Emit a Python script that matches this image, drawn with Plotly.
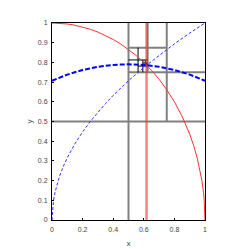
import plotly.graph_objects as go

# red quarter circle
circle_x = [0, 0.05, 0.1, 0.15, 0.2, 0.25, 0.3, 0.35, 0.4, 0.45, 0.5, 0.55, 0.6, 0.65,
            0.7, 0.75, 0.8, 0.85, 0.9, 0.925, 0.95, 0.97, 0.98, 0.99, 0.995, 1.0]
circle_y = [1.0, 0.99875, 0.99499, 0.98869, 0.9798, 0.96825, 0.95394, 0.93675, 0.91652,
            0.89303, 0.86603, 0.83516, 0.8, 0.75993, 0.71414, 0.66144, 0.6, 0.52678,
            0.43589, 0.37997, 0.31225, 0.2431, 0.199, 0.14107, 0.09987, 0.0]

# thin blue dashed curve
root_x = [0, 0.005, 0.01, 0.02, 0.03, 0.05, 0.075, 0.1, 0.15, 0.2, 0.25, 0.3, 0.35,
          0.4, 0.5, 0.6, 0.7, 0.8, 0.9, 1.0]
root_y = [0, 0.0707, 0.1, 0.1414, 0.1732, 0.2236, 0.2739, 0.3162, 0.3873, 0.4472, 0.5,
          0.5477, 0.5916, 0.6325, 0.7071, 0.7746, 0.8367, 0.8944, 0.9487, 1.0]

# thick blue dashed curve
mean_x = [0, 0.1, 0.2, 0.3, 0.4, 0.5, 0.6, 0.7, 0.8, 0.9, 1.0]
mean_y = [0.70711, 0.73824, 0.76158, 0.77782, 0.7874, 0.79057, 0.7874, 0.77782, 0.76158,
          0.73824, 0.70711]

golden_x = 0.618

# bisection split lines per level
split_vx = [0.5, 0.75, 0.625, 0.5625, 0.59375, 0.609375, 0.6171875, 0.62109375]
split_vy0 = [0, 0.5, 0.75, 0.75, 0.75, 0.78125, 0.78125, 0.78125]
split_vy1 = [1, 1, 1, 0.875, 0.8125, 0.8125, 0.796875, 0.7890625]
split_hy = [0.5, 0.75, 0.875, 0.8125, 0.78125, 0.796875, 0.7890625, 0.78515625]
split_hx0 = [0, 0.5, 0.5, 0.5, 0.5625, 0.59375, 0.609375, 0.6171875]
split_hx1 = [1, 1, 0.75, 0.625, 0.625, 0.625, 0.625, 0.625]
gray_levels = 3

x_ticks = [0, 0.2, 0.4, 0.6, 0.8, 1]
y_ticks = [0, 0.1, 0.2, 0.3, 0.4, 0.5, 0.6, 0.7, 0.8, 0.9, 1]


def segs(idx):
    xs, ys = [], []
    for i in idx:
        xs += [split_vx[i], split_vx[i], None, split_hx0[i], split_hx1[i], None]
        ys += [split_vy0[i], split_vy1[i], None, split_hy[i], split_hy[i], None]
    return xs, ys


fig = go.Figure()
gx, gy = segs(range(gray_levels))
fig.add_trace(go.Scatter(x=gx, y=gy, mode="lines", line=dict(color="#808080", width=2)))
bx, by = segs(range(gray_levels, len(split_vx)))
fig.add_trace(go.Scatter(x=bx, y=by, mode="lines", line=dict(color="black", width=1)))
fig.add_trace(go.Scatter(x=circle_x, y=circle_y, mode="lines",
                         line=dict(color="#ff3030", width=1)))
fig.add_trace(go.Scatter(x=root_x, y=root_y, mode="lines",
                         line=dict(color="#3030ff", width=1, dash="3px,2px")))
fig.add_trace(go.Scatter(x=mean_x, y=mean_y, mode="lines",
                         line=dict(color="#0000ff", width=2, dash="5px,2px")))
fig.add_trace(go.Scatter(x=[golden_x, golden_x], y=[0, 1], mode="lines",
                         line=dict(color="rgba(255,40,40,0.6)", width=2.5)))

axis_common = dict(showgrid=False, zeroline=False, showline=True, linecolor="black",
                   linewidth=1, mirror=True, ticks="inside", ticklen=2,
                   tickcolor="black", tickfont=dict(size=7, color="#444",
                                                    family="Liberation Sans"))
fig.update_xaxes(range=[0, 1], tickvals=x_ticks, ticktext=[f"{v:g}" for v in x_ticks],
                 ticklabelstandoff=3,
                 title=dict(text="x", font=dict(size=8, color="#444"), standoff=7),
                 **axis_common)
fig.update_yaxes(range=[0, 1], tickvals=y_ticks, ticktext=[f"{v:g}" for v in y_ticks],
                 ticklabelstandoff=2,
                 title=dict(text="y", font=dict(size=8, color="#444"), standoff=4),
                 **axis_common)
fig.update_layout(width=249, height=249, margin=dict(l=44, r=52, t=11, b=36),
                  showlegend=False, plot_bgcolor="white", paper_bgcolor="white")
fig.write_html("out.html")
